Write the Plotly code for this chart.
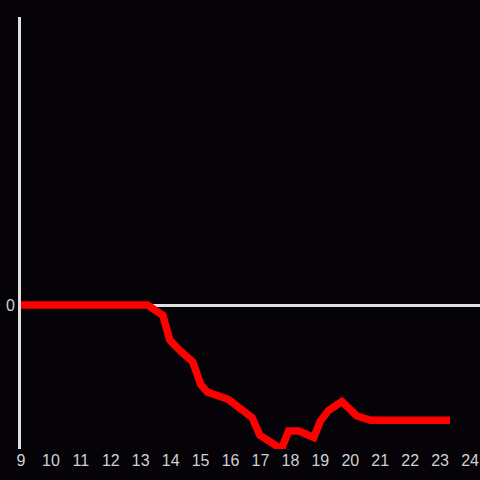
import plotly.graph_objects as go

hours = [9.0, 13.22, 13.74, 13.97, 14.33, 14.74, 15.0, 15.22, 15.92, 16.22, 16.72, 16.98,
         17.7, 17.94, 18.28, 18.78, 19.0, 19.28, 19.72, 20.22, 20.67, 23.33]
values = [0.0, 0.0, -0.072, -0.243, -0.32, -0.396, -0.551, -0.604, -0.655, -0.708, -0.782, -0.905,
          -1.0, -0.875, -0.875, -0.92, -0.806, -0.731, -0.671, -0.771, -0.80, -0.80]
x_ticks = list(range(9, 25))

BG = "#050308"

fig = go.Figure()
fig.add_trace(go.Scatter(x=hours, y=values, mode="lines",
                         line=dict(color="#ff0000", width=7.5), hoverinfo="skip"))

fig.update_layout(
    width=480, height=480,
    margin=dict(l=21, r=0, t=17, b=31),
    paper_bgcolor=BG, plot_bgcolor=BG,
    showlegend=False,
    font=dict(family="Liberation Sans, Arial, sans-serif", size=16, color="#d0d0d0"),
)
fig.update_xaxes(range=[9, 24.333], tickvals=x_ticks, ticktext=[str(t) for t in x_ticks],
                 showgrid=False, zeroline=False, showline=False,
                 ticks="", fixedrange=True)
fig.update_yaxes(range=[-1, 2], tickvals=[0], ticktext=["0"], showgrid=False,
                 zeroline=True, zerolinecolor="#e0e0e0", zerolinewidth=3,
                 showline=True, linecolor="#e0e0e0", linewidth=3, ticks="", fixedrange=True)

fig.write_html("out.html", config={"displayModeBar": False},
               post_script="document.body.style.margin='0';document.body.style.background='#050308';")
